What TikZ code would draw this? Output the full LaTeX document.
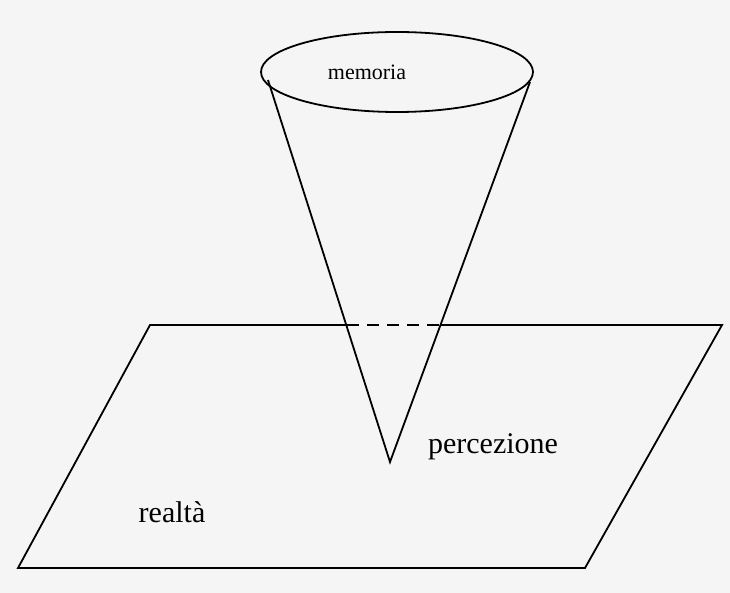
\documentclass[tikz,border=0pt]{standalone}
\usepackage{fontspec}
\setmainfont{Liberation Serif}
\begin{document}
\begin{tikzpicture}[x=1pt,y=-1pt,line width=1.8pt,
  lbl/.style={inner sep=0pt,font=\fontsize{30}{36}\selectfont}]
\fill[gray!8] (0,0) rectangle (730,593);
\useasboundingbox (0,0) rectangle (730,593);
\coordinate (tl) at (150,325);
\coordinate (tr) at (722,325);
\coordinate (br) at (585,568);
\coordinate (bl) at (18,568);
\coordinate (cl) at (347,325);
\coordinate (cr) at (440,325);
\coordinate (apex) at (390,462);
\coordinate (el) at (268,80);
\coordinate (er) at (530,82);
\draw (cl) -- (tl) -- (bl) -- (br) -- (tr) -- (cr);
\draw[dashed,dash pattern=on 12pt off 8pt] (cl) -- (cr);
\draw (el) -- (apex) -- (er);
\draw (397,72) ellipse [x radius=136, y radius=40];
\node[lbl,font=\fontsize{22}{26}\selectfont] (mem) at (367,72) {memoria};
\node[lbl] (perc) at (493,447) {percezione};
\node[lbl] (real) at (172,512) {realtà};
\end{tikzpicture}
\end{document}
